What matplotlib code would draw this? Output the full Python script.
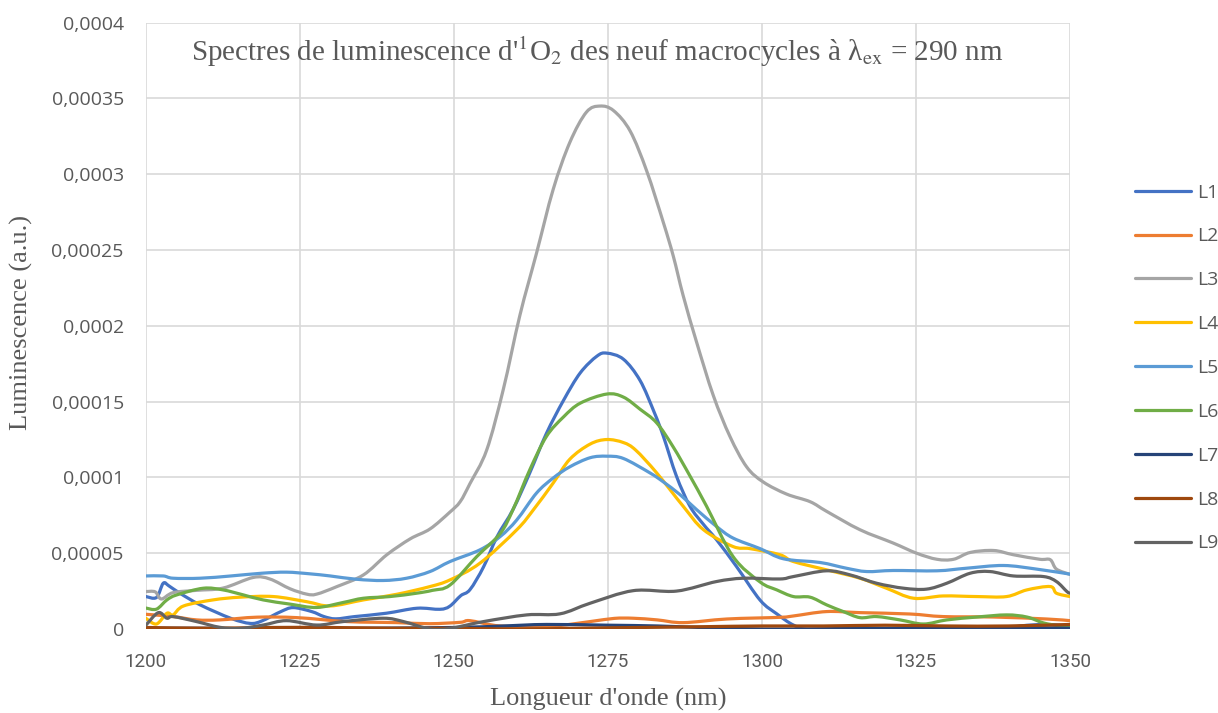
import numpy as np
import matplotlib
matplotlib.use("Agg")
import matplotlib.pyplot as plt
from matplotlib.path import Path
from matplotlib.patches import PathPatch
from matplotlib.lines import Line2D

# Luminescence values are stored in units of 1e-5 (a.u.)
SCALE = 1e-5

l1_x = [1200, 1201.7, 1202.8, 1203.7, 1205.5, 1208.8, 1213.8, 1216.9, 1218.8, 1221.9, 1223.9, 1226.9,
        1228.9, 1230.8, 1233.9, 1239.0, 1244.0, 1247.7, 1249.3, 1251.1, 1252.6, 1254.8, 1257.0, 1259.6,
        1262.3, 1265.0, 1267.8, 1270.5, 1273.2, 1274.8, 1277.5, 1280.2, 1282.5, 1284.0, 1286.1, 1288.3,
        1290.5, 1292.6, 1295.9, 1299.7, 1302.4, 1305.1, 1307.8, 1315, 1325, 1330, 1335, 1338, 1342, 1346, 1350]
l1_y = [2.14, 2.08, 3.02, 2.85, 2.36, 1.59, 0.70, 0.37, 0.53, 1.15, 1.41, 1.15,
        0.82, 0.67, 0.82, 1.04, 1.37, 1.30, 1.50, 2.2, 2.6, 4.1, 6.1, 7.9,
        10.3, 12.9, 15.1, 16.9, 18.0, 18.2, 17.8, 16.4, 14.3, 12.7, 10.1, 8.1,
        6.9, 5.9, 4.1, 1.9, 1.0, 0.26, -0.05, 0.0, -0.05, -0.05, -0.15, -0.1, 0.2, 0.3, 0.2]

l2_x = [1200, 1204.4, 1208.2, 1212, 1218, 1224.5, 1232.6, 1240.7, 1246, 1251, 1252.6, 1257.5, 1265.6,
        1272.1, 1276, 1279.1, 1283, 1287.2, 1294.3, 1302.9, 1305.1, 1310.5, 1315.9, 1324, 1329.4,
        1337.6, 1346.2, 1350]
l2_y = [0.97, 0.82, 0.6, 0.6, 0.78, 0.75, 0.49, 0.42, 0.35, 0.44, 0.55, 0.2, 0.18,
        0.49, 0.7, 0.71, 0.6, 0.42, 0.66, 0.77, 0.86, 1.15, 1.08, 0.99, 0.82,
        0.79, 0.66, 0.55]

l3_x = [1200, 1201.5, 1202.5, 1204.4, 1208.2, 1212.5, 1217.4, 1220.1, 1223.4, 1226.1, 1227.7, 1231.0,
        1235.3, 1239.1, 1242.9, 1246.1, 1249.3, 1251.0, 1252.6, 1255.3, 1258.0, 1260.7, 1263.4, 1266.1,
        1268.8, 1271.5, 1273.7, 1275.9, 1278.6, 1281.3, 1284.0, 1285.6, 1287.2, 1289.4, 1292.1, 1294.8,
        1297.5, 1300.2, 1304.0, 1307.8, 1310.5, 1315.9, 1321.3, 1325.1, 1328.4, 1331.1, 1333.8, 1337.6,
        1340.8, 1345.1, 1346.8, 1347.8, 1350]
l3_y = [2.47, 2.45, 1.98, 2.4, 2.55, 2.7, 3.4, 3.3, 2.65, 2.3, 2.3, 2.8,
        3.57, 4.9, 5.95, 6.6, 7.7, 8.4, 9.6, 11.8, 15.8, 20.7, 24.8, 29.0,
        32.1, 34.1, 34.5, 34.2, 32.85, 30.2, 26.8, 24.6, 22.0, 18.9, 15.4, 12.7,
        10.7, 9.7, 8.9, 8.4, 7.76, 6.55, 5.67, 5.0, 4.6, 4.6, 5.05, 5.18,
        4.9, 4.6, 4.57, 3.95, 3.6]

l4_x = [1200, 1201.7, 1203.4, 1204.4, 1206.1, 1210.9, 1215.3, 1220.7, 1226.1, 1229.9, 1235.3, 1240.7,
        1246.1, 1249.35, 1254.2, 1260.2, 1262.9, 1266.1, 1268.8, 1272.1, 1274.8, 1277.5, 1279.5, 1282.9,
        1287.2, 1290.5, 1295.3, 1298.1, 1302.9, 1305.1, 1310.5, 1315.9, 1320.2, 1324.6, 1329.4, 1334.9,
        1339.7, 1343, 1346.8, 1347.8, 1350]
l4_y = [0.7, 0.33, 1.04, 0.93, 1.52, 1.92, 2.1, 2.14, 1.8, 1.52, 1.92, 2.29,
        2.8, 3.24, 4.34, 6.55, 7.87, 9.63, 11.2, 12.2, 12.5, 12.3, 11.8, 10.3,
        8.1, 6.55, 5.44, 5.3, 4.9, 4.45, 3.9, 3.35, 2.69, 2.03, 2.18, 2.14,
        2.14, 2.58, 2.8, 2.36, 2.14]

l5_x = [1200, 1202.8, 1204.4, 1208.8, 1213.8, 1218.8, 1222.8, 1226.6, 1229.9, 1234.2, 1238.5, 1242.3,
        1246.1, 1249.35, 1254.2, 1257.5, 1260.2, 1263.4, 1266.1, 1268.8, 1272.1, 1274.8, 1277.5, 1281.8,
        1284, 1286.7, 1289.4, 1292.6, 1295.3, 1299.7, 1303.5, 1309.4, 1313.7, 1317, 1321.3, 1328.4,
        1333.2, 1339.2, 1344.6, 1350]
l5_y = [3.5, 3.5, 3.35, 3.35, 3.5, 3.68, 3.75, 3.64, 3.5, 3.28, 3.2, 3.35,
        3.79, 4.45, 5.22, 6.1, 7.2, 8.97, 9.96, 10.7, 11.3, 11.4, 11.25, 10.3,
        9.7, 8.86, 7.87, 6.77, 6.0, 5.3, 4.63, 4.39, 4.01, 3.79, 3.86, 3.84,
        4.01, 4.19, 3.95, 3.62]

l6_x = [1200, 1201.7, 1203.4, 1205, 1209.3, 1212.5, 1215.8, 1219, 1223.4, 1227.7, 1232, 1235.3,
        1239.6, 1243.9, 1246.5, 1249.35, 1253.7, 1257.5, 1259.6, 1262.3, 1265, 1267.8, 1270.5, 1274.8,
        1277.5, 1280.2, 1282.9, 1285.6, 1288.3, 1291, 1295.3, 1299.7, 1302.4, 1305.1, 1307.8, 1310.5,
        1313.2, 1315.9, 1318.6, 1322.4, 1326.2, 1330, 1334.9, 1339.7, 1343, 1345.7, 1348.4, 1350]
l6_y = [1.38, 1.31, 1.92, 2.25, 2.69, 2.58, 2.25, 1.92, 1.64, 1.42, 1.75, 2.03,
        2.14, 2.36, 2.55, 2.9, 4.78, 6.3, 7.9, 10.5, 12.7, 14.0, 14.9, 15.5,
        15.3, 14.5, 13.6, 12.0, 10.1, 8.1, 4.78, 3.1, 2.58, 2.14, 2.1, 1.59,
        1.15, 0.75, 0.82, 0.6, 0.33, 0.6, 0.79, 0.93, 0.79, 0.4, 0.2, 0.15]

l7_x = [1200, 1210, 1220, 1235, 1250, 1258, 1265, 1275, 1283, 1290, 1300, 1310, 1320, 1330, 1340, 1350]
l7_y = [0.05, 0.05, 0.0, 0.05, 0.1, 0.2, 0.3, 0.25, 0.2, 0.1, 0.0, 0.02, 0.05, 0.05, 0.1, 0.05]

l8_x = [1200, 1210, 1220, 1230, 1240, 1250, 1260, 1270, 1280, 1290, 1300, 1310, 1320, 1330, 1340, 1350]
l8_y = [0.1, 0.05, 0.1, 0.1, 0.05, 0.05, 0.0, 0.05, 0.1, 0.15, 0.2, 0.2, 0.25, 0.2, 0.2, 0.3]

l9_x = [1200, 1202, 1203.4, 1204.4, 1208.2, 1212, 1215.3, 1219, 1222.8, 1227.7, 1232, 1238.5,
        1241.8, 1246.1, 1249.35, 1254.8, 1261.8, 1267.2, 1272.1, 1279.1, 1286.1, 1292.6, 1297, 1302.9,
        1305.1, 1310.5, 1314.3, 1318.6, 1323, 1326.7, 1330, 1333.8, 1337, 1340.8, 1345.7, 1347.8,
        1349.5, 1350]
l9_y = [0.26, 1.08, 0.71, 0.82, 0.49, 0.11, 0.04, 0.26, 0.55, 0.26, 0.49, 0.71,
        0.49, 0.0, 0.04, 0.49, 0.93, 1.0, 1.7, 2.53, 2.5, 3.13, 3.35, 3.3,
        3.46, 3.84, 3.57, 3.02, 2.69, 2.63, 3.02, 3.68, 3.79, 3.5, 3.46, 3.13,
        2.47, 2.36]

labels = ["L1", "L2", "L3", "L4", "L5", "L6", "L7", "L8", "L9"]
colors = ["#4472C4", "#ED7D31", "#A5A5A5", "#FFC000", "#5B9BD5",
          "#70AD47", "#264478", "#9E480E", "#636363"]
series = [(l1_x, l1_y), (l2_x, l2_y), (l3_x, l3_y), (l4_x, l4_y), (l5_x, l5_y),
          (l6_x, l6_y), (l7_x, l7_y), (l8_x, l8_y), (l9_x, l9_y)]

x_ticks = [1200, 1225, 1250, 1275, 1300, 1325, 1350]
y_ticks = [0, 0.00005, 0.0001, 0.00015, 0.0002, 0.00025, 0.0003, 0.00035, 0.0004]
y_tick_labels = ["0", "0,00005", "0,0001", "0,00015", "0,0002",
                 "0,00025", "0,0003", "0,00035", "0,0004"]


def smooth_path(xs, ys):
    # cubic Bezier through every point (Catmull-Rom tangents), like a smoothed spreadsheet line
    pts = np.column_stack([xs, ys])
    n = len(pts)
    verts = [pts[0]]
    codes = [Path.MOVETO]
    for i in range(n - 1):
        p0 = pts[max(i - 1, 0)]
        p1 = pts[i]
        p2 = pts[i + 1]
        p3 = pts[min(i + 2, n - 1)]
        c1 = p1 + (p2 - p0) / 6.0
        c2 = p2 - (p3 - p1) / 6.0
        verts += [c1, c2, p2]
        codes += [Path.CURVE4] * 3
    return Path(verts, codes)


plt.rcParams['mathtext.fontset'] = 'stix'
serif = ['Liberation Serif', 'DejaVu Serif']

fig = plt.figure(figsize=(12.18, 7.13), dpi=100)
ax = fig.add_axes([146 / 1218, 1 - 629 / 713, (1070 - 146) / 1218, (629 - 22.7) / 713])

handles = []
for (xs, ys), lab, col in zip(series, labels, colors):
    path = smooth_path(np.array(xs, float), np.array(ys, float) * SCALE)
    ax.add_patch(PathPatch(path, facecolor='none', edgecolor=col, lw=2.3,
                           joinstyle='round', capstyle='round'))
    handles.append(Line2D([], [], color=col, lw=2.3, solid_capstyle='round', label=lab))

ax.set_xlim(1200, 1350)
ax.set_ylim(0, 0.0004)
ax.set_xticks(x_ticks)
ax.set_xticklabels([str(t) for t in x_ticks])
ax.set_yticks(y_ticks)
ax.set_yticklabels(y_tick_labels)
ax.grid(True, color='#d9d9d9', lw=1.2)
ax.set_axisbelow(True)
for s in ax.spines.values():
    s.set_visible(False)
ax.tick_params(length=0, colors='#595959')
ax.tick_params(axis='x', pad=17, labelsize=13.5)
ax.tick_params(axis='y', pad=16, labelsize=14)
for t in ax.get_xticklabels():
    t.set_family('Roboto')
for t in ax.get_yticklabels():
    t.set_family('Open Sans')

fig.text(597 / 1218, 1 - 52 / 713,
         "Spectres de luminescence d'$^{1}$O$_{2}$ des neuf macrocycles à λ$_{\\mathrm{ex}}$ = 290 nm",
         ha='center', va='center', fontsize=21, color='#595959', family=serif)
fig.text(608 / 1218, 1 - 699 / 713, "Longueur d'onde (nm)", ha='center', va='center',
         fontsize=19, color='#595959', family=serif)
fig.text(21 / 1218, 1 - 322 / 713, "Luminescence (a.u.)", ha='center', va='center',
         rotation=90, fontsize=19, color='#595959', family=serif)

leg = fig.legend(handles=handles, loc='center left', bbox_to_anchor=(1135 / 1218, 1 - 368 / 713),
                 frameon=False, fontsize=14, handlelength=2.9, handletextpad=0.3,
                 labelspacing=1.33, borderpad=0, borderaxespad=0)
for t in leg.get_texts():
    t.set_color('#595959')
    t.set_family('Open Sans')

fig.savefig("out.png", dpi=100)
